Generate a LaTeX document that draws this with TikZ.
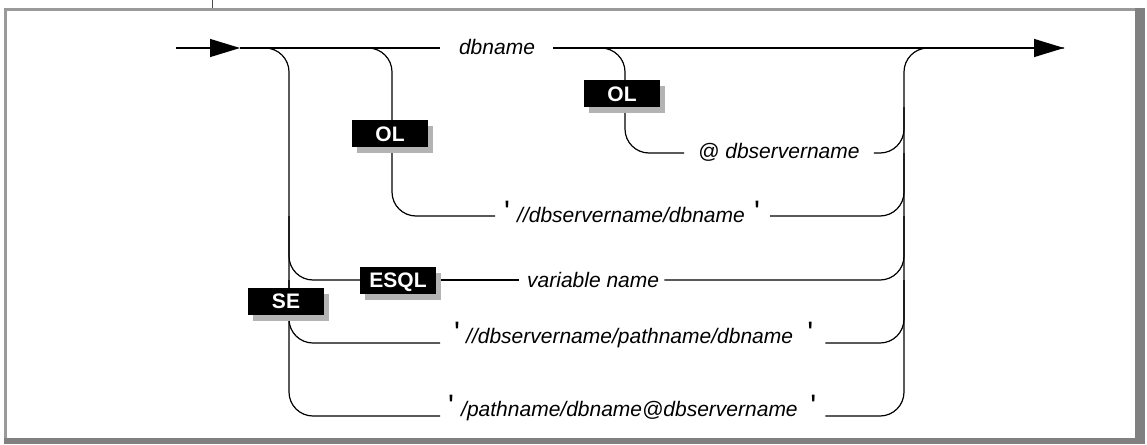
\documentclass[tikz,border=0pt]{standalone}
\usepackage{fontspec}
\setmainfont{Liberation Sans}
\usetikzlibrary{arrows.meta,shadows}
\definecolor{framelt}{HTML}{9A9A9A}
\definecolor{framedk}{HTML}{808080}
\definecolor{shadowc}{HTML}{B3B3B3}
\begin{document}
\begin{tikzpicture}[x=1pt,y=-1pt,
  rail/.style={line width=1.2pt, rounded corners=24pt},
  tipped/.style={-{Triangle[length=30pt,width=18pt]}},
  lbl/.style={font=\fontsize{21}{25}\selectfont\itshape, inner sep=0pt, text height=16pt, text depth=#1},
  lbl/.default=2pt,
  qt/.style={font=\fontsize{31}{31}\selectfont, inner sep=0pt, anchor=base},
  tag/.style={fill=black, text=white, font=\fontsize{21}{25}\selectfont\bfseries,
    minimum width=76pt, minimum height=27pt, inner sep=0pt, text height=15pt, text depth=0pt,
    drop shadow={shadow xshift=5pt, shadow yshift=-6pt, fill=shadowc, opacity=1}},
  ]
\useasboundingbox (0,0) rectangle (1147,444);
% frame
\fill[framelt] (4,8) rectangle (1135,11);
\fill[framelt] (4,8) rectangle (7,438);
\fill[framedk] (1135,8) rectangle (1145,444);
\fill[framedk] (4,438) rectangle (1145,444);
\draw[line width=0.8pt, black!70] (212,0) -- (212,8);

% columns
\coordinate (cL) at (289,0);
\coordinate (cM) at (392,0);
\coordinate (cR) at (625,0);
\coordinate (cE) at (904,0);
\coordinate (in) at (176,48);
\coordinate (a1) at (240,48);
\coordinate (out) at (1064,48);
\coordinate (mid) at (904,107);

% texts
\node[lbl] (dbn) at (497,48) {dbname};
\node[lbl=5pt, anchor=west] (r1) at (698,153) {@ dbservername};
\node[lbl=4pt, anchor=west] (r2) at (517,216) {//dbservername/dbname};
\node[lbl, anchor=west] (vn) at (527,280) {variable name};
\node[lbl=16pt, anchor=west] (r4) at (466,343) {//dbservername/pathname/dbname};
\node[lbl=16pt, anchor=west] (r5) at (461,416) {/pathname/dbname@dbservername};

\node[qt] (q2a) at ([xshift=-10pt]r2.base west) {\textquotesingle};
\node[qt] (q2b) at ([xshift=12pt]r2.base east) {\textquotesingle};
\node[qt] (q4a) at ([xshift=-9pt]r4.base west) {\textquotesingle};
\node[qt] (q4b) at ([xshift=17pt]r4.base east) {\textquotesingle};
\node[qt] (q5a) at ([xshift=-10pt]r5.base west) {\textquotesingle};
\node[qt] (q5b) at ([xshift=15.5pt]r5.base east) {\textquotesingle};

\node[tag] (esql) at (398,280) {ESQL};

% main line
\draw[rail, tipped] (in) -- (a1);
\draw[rail] (a1) -- ([xshift=-19pt]dbn.west);
\draw[rail, tipped] ([xshift=18pt]dbn.east) -- (out);

% left outer column
\draw[rail] (a1) -- (cL |- a1) -- (cL |- r5.west) -- ([xshift=-21pt]r5.west);
\draw[rail] (cL |- r2.west) -- (cL |- esql.west) -- (esql.west);
\draw[rail] (cL |- vn.west) -- (cL |- r4.west) -- ([xshift=-26pt]r4.west);
\draw[rail] ([xshift=5pt]esql.east) -- ([xshift=-8pt]vn.west);

% inner columns
\draw[rail] (cL |- a1) -- (cM |- a1) -- (cM |- r2.west) -- ([xshift=-22pt]r2.west);
\draw[rail] ([xshift=18pt]dbn.east) -- (cR |- dbn.east) -- (cR |- r1.west) -- ([xshift=-14pt]r1.west);

% right merge column
\draw[rail] ([xshift=27.5pt]r5.east) -- (cE |- r5.east) -- (cE |- out) -- (out);
\draw[rail] ([xshift=14pt]r1.east) -- (cE |- r1.east) -- (mid);
\draw[rail] ([xshift=25pt]r2.east) -- (cE |- r2.east) -- (cE |- r1.east);
\draw[rail] ([xshift=5pt]vn.east) -- (cE |- vn.east) -- (cE |- r2.east);
\draw[rail] ([xshift=32pt]r4.east) -- (cE |- r4.east) -- (cE |- vn.east);

% tags over lines
\node[tag] (oll) at (390,133.5) {OL};
\node[tag] (olr) at (622,93.5) {OL};
\node[tag] (se) at (286,301) {SE};
\end{tikzpicture}
\end{document}
